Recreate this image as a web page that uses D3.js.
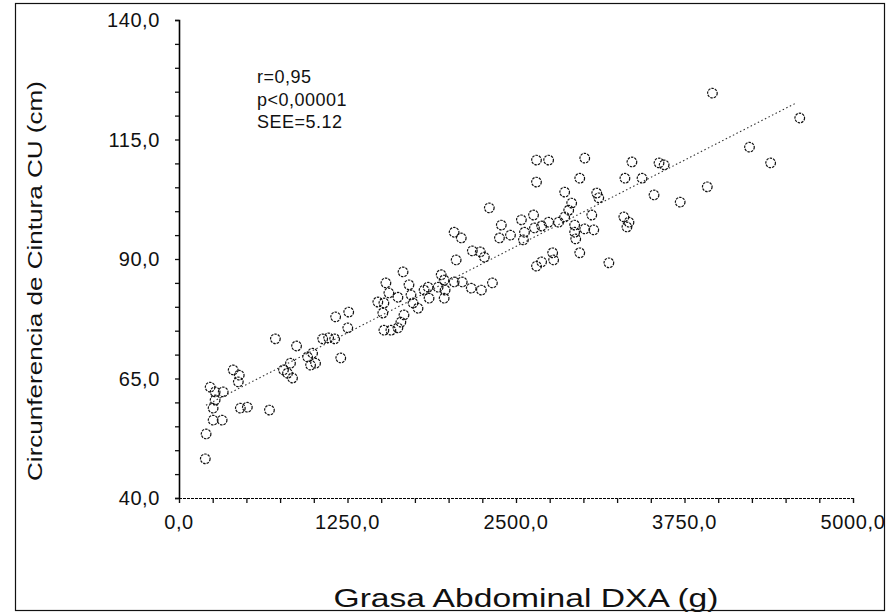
<!DOCTYPE html>
<html>
<head>
<meta charset="utf-8">
<script src="https://cdn.jsdelivr.net/npm/d3@7"></script>
<style>
  body { margin: 0; background: #fff; }
  svg { font-family: "Liberation Sans", Arial, sans-serif; }
</style>
</head>
<body>
<div id="chart"></div>
<script>

var svgWidth = 888;
var svgHeight = 615;
var margin = { top: 20, right: 35, bottom: 117, left: 179 };

var width = svgWidth - margin.left - margin.right;
var height = svgHeight - margin.top - margin.bottom;

// grasa abdominal DXA (g)
var grasa = [195, 201, 253, 320, 253, 268, 231, 268, 328, 402, 447, 440, 455, 507, 671,
  715, 775, 805, 827, 842, 872, 954, 991, 1013, 976, 1066, 1110, 1155, 1200, 1162, 1259, 1252,
  1535, 1662, 1706, 1475, 1520, 1557, 1624, 1512, 1520, 1572, 1624, 1646, 1669, 1721, 1736, 1773,
  1818, 1848, 1855, 1922, 1967, 1945, 1967, 2056, 2041, 2101, 2168, 2243, 2325, 2176, 2235, 2265,
  2302, 2041, 2094, 1974, 2391, 2377, 2459, 2540, 2555, 2563, 2630, 2637, 2690, 2742, 2816, 2861,
  2652, 2690, 2772, 2779, 2861, 2913, 2935, 2935, 2943, 2973, 2652, 2742, 2652, 3010, 2973, 2891,
  3062, 3010, 3077, 3099, 3114, 3300, 3338, 3323, 3189, 3360, 3561, 3599, 3308, 3435, 3524, 3718,
  3919, 3957, 4605, 4232, 4389];

// circunferencia de cintura (cm)
var cintura = [48.2, 53.4, 56.3, 56.3, 58.8, 60.5, 63.2, 62.2, 62.2, 66.8, 65.7, 64.3, 58.8, 59.0, 58.4,
  73.3, 66.8, 66.1, 68.2, 65.1, 71.8, 69.5, 70.3, 68.2, 67.8, 73.3, 73.5, 73.3, 69.3, 77.9, 78.9, 75.6,
  85.0, 87.3, 84.6, 81.0, 80.8, 82.9, 82.0, 78.7, 75.1, 75.1, 75.6, 76.8, 78.3, 82.5, 80.8, 79.7,
  83.5, 84.1, 81.8, 84.1, 81.8, 86.7, 85.6, 89.8, 85.2, 85.2, 83.9, 83.5, 85.0, 91.7, 91.5, 90.4,
  100.7, 95.6, 94.4, 83.5, 97.1, 94.4, 95.0, 98.2, 94.0, 95.6, 99.2, 96.5, 96.9, 97.7, 97.7, 98.8,
  88.5, 89.4, 91.3, 89.8, 104.0, 101.7, 97.1, 95.6, 94.2, 91.3, 110.7, 110.7, 106.1, 111.1, 106.9, 100.2,
  99.2, 96.3, 96.1, 103.8, 102.8, 98.8, 97.7, 96.7, 89.2, 110.3, 110.1, 109.7, 106.9, 106.9, 103.4, 101.9,
  105.1, 124.7, 119.5, 113.4, 110.1];

// regression line end points
var lineX = [200, 4575];
var lineY = [59.4, 122.6];

var xTicks = [0, 1250, 2500, 3750, 5000];
var yTicks = [40, 65, 90, 115, 140];

var stats = ["r=0,95", "p<0,00001", "SEE=5.12"];

// decimal comma, as in the scan
var fmt = d => d3.format(".1f")(d).replace(".", ",");

var svg = d3.select("#chart")
  .append("svg")
  .attr("width", svgWidth)
  .attr("height", svgHeight);

// page frame from the scan
svg.append("rect")
  .attr("x", 15.5)
  .attr("y", 3.5)
  .attr("width", 869)
  .attr("height", 607)
  .attr("fill", "none")
  .attr("stroke", "#111")
  .attr("stroke-width", 1.2);

var chartGroup = svg.append("g")
  .attr("transform", `translate(${margin.left}, ${margin.top})`);

var xLinearScale = d3.scaleLinear().domain([0, 5000]).range([0, width]);
var yLinearScale = d3.scaleLinear().domain([40, 140]).range([height, 0]);

// minor ticks
var bottomAxis = d3.axisBottom(xLinearScale)
  .tickValues(d3.range(0, 5001, 250))
  .tickSize(5)
  .tickFormat("");
var leftAxis = d3.axisLeft(yLinearScale)
  .tickValues(d3.range(40, 141, 5))
  .tickSize(4)
  .tickFormat("");

var xAxis = chartGroup.append("g")
  .attr("transform", `translate(0, ${height})`)
  .call(bottomAxis);
xAxis.select(".domain").attr("stroke-dasharray", "3,1").attr("stroke-width", 1.1);

var yAxis = chartGroup.append("g")
  .call(leftAxis);
yAxis.select(".domain").attr("stroke-width", 1.6);

chartGroup.selectAll(".tick line").attr("stroke", "#111").attr("stroke-width", 1.3);

// tick labels
chartGroup.selectAll(".xlab")
  .data(xTicks)
  .enter()
  .append("text")
  .attr("x", d => xLinearScale(d))
  .attr("y", height + 31)
  .attr("text-anchor", "middle")
  .style("font-size", "20px")
  .style("letter-spacing", "0.6px")
  .attr("fill", "#111")
  .text(fmt);

chartGroup.selectAll(".ylab")
  .data(yTicks)
  .enter()
  .append("text")
  .attr("x", -19)
  .attr("y", d => yLinearScale(d) + 7)
  .attr("text-anchor", "end")
  .style("font-size", "20px")
  .style("letter-spacing", "0.6px")
  .attr("fill", "#111")
  .text(fmt);

// regression line
chartGroup.append("line")
  .attr("x1", xLinearScale(lineX[0]))
  .attr("y1", yLinearScale(lineY[0]))
  .attr("x2", xLinearScale(lineX[1]))
  .attr("y2", yLinearScale(lineY[1]))
  .attr("stroke", "#333")
  .attr("stroke-width", 1.1)
  .attr("stroke-dasharray", "1.5,2.5");

// points
chartGroup.selectAll("circle")
  .data(grasa)
  .enter()
  .append("circle")
  .attr("cx", d => xLinearScale(d))
  .attr("cy", (d, i) => yLinearScale(cintura[i]))
  .attr("r", 4.8)
  .attr("fill", "none")
  .attr("stroke", "#111")
  .attr("stroke-width", 1.2)
  .attr("stroke-dasharray", "2.5,1");

// stats text
chartGroup.selectAll(".stat")
  .data(stats)
  .enter()
  .append("text")
  .attr("x", 78)
  .attr("y", (d, i) => 63 + i * 22.5)
  .style("font-size", "18px")
  .style("letter-spacing", "0.5px")
  .attr("fill", "#111")
  .text(d => d);

// axis titles
svg.append("text")
  .attr("x", 526)
  .attr("y", 607)
  .attr("text-anchor", "middle")
  .attr("textLength", 385)
  .attr("lengthAdjust", "spacingAndGlyphs")
  .style("font-size", "25px")
  .attr("fill", "#111")
  .text("Grasa Abdominal DXA (g)");

svg.append("text")
  .attr("transform", "translate(42, 281) rotate(-90)")
  .attr("text-anchor", "middle")
  .attr("textLength", 400)
  .attr("lengthAdjust", "spacingAndGlyphs")
  .style("font-size", "21px")
  .attr("fill", "#111")
  .text("Circunferencia de Cintura CU (cm)");

</script>
</body>
</html>
